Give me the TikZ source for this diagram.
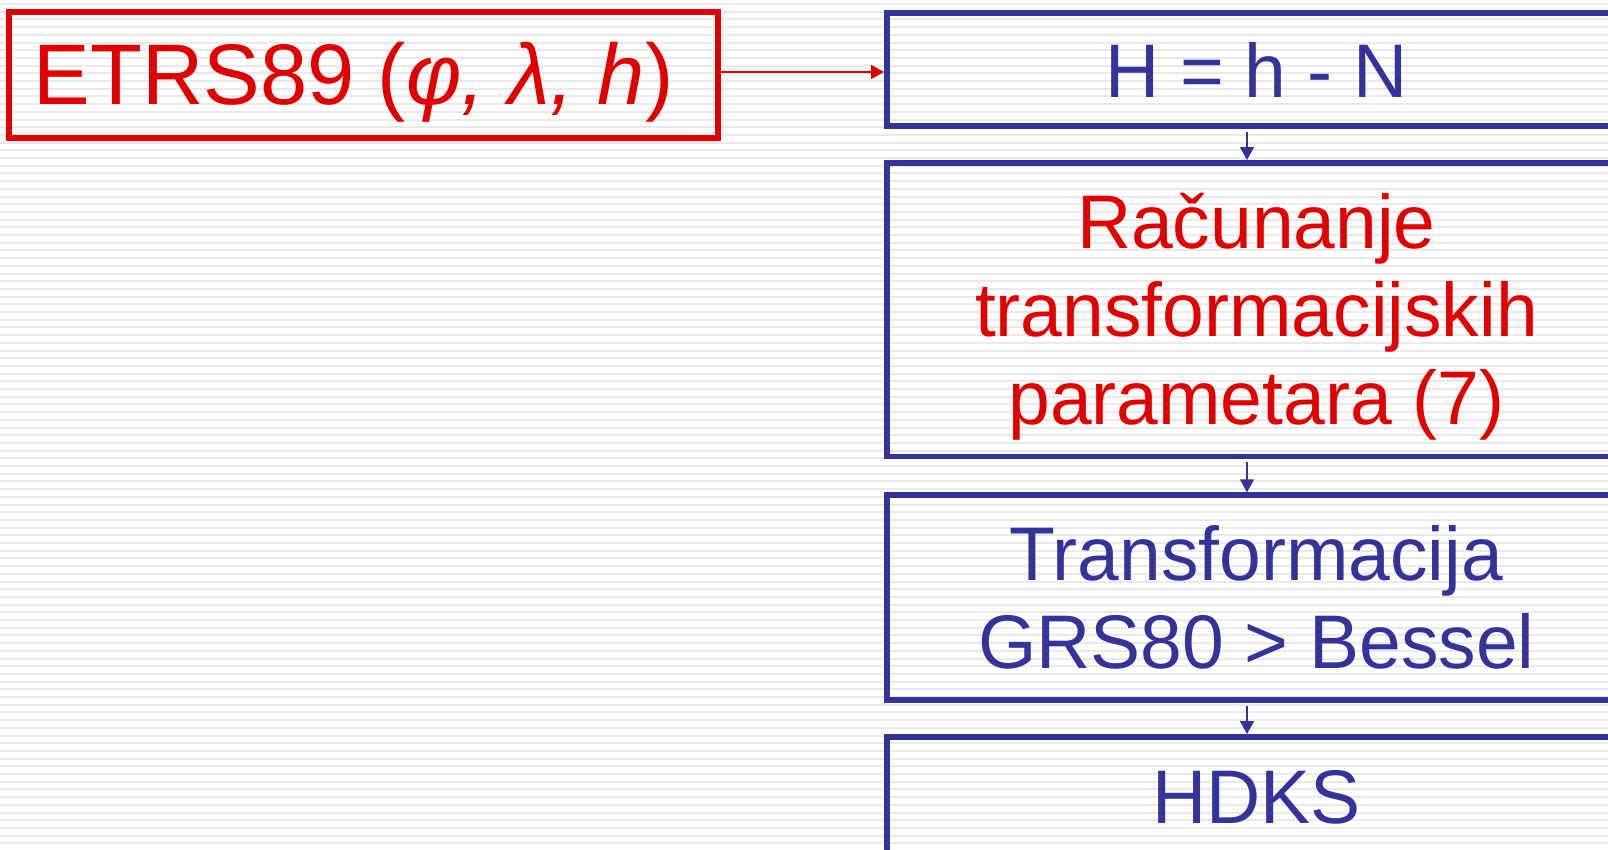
\documentclass[tikz,border=0pt]{standalone}
\usepackage{fontspec}
\setmainfont[FakeStretch=0.987]{Liberation Sans}
\usetikzlibrary{arrows.meta}
\definecolor{trfred}{RGB}{224,0,0}
\definecolor{trfblue}{RGB}{51,51,153}
\begin{document}
\begin{tikzpicture}[x=1pt, y=-1pt,
  trfstripe/.style = {line width=2pt, gray!17},
  trfbox/.style = {draw, line width=5.7pt, inner sep=0pt, align=center,
    minimum width=739.1pt, font=\fontsize{76}{88}\selectfont},
  trfredbox/.style = {trfbox, draw=trfred, text=trfred},
  trfbluebox/.style = {trfbox, draw=trfblue, text=trfblue},
  trfarrow/.style = {-{Triangle[length=13pt,width=14pt]}, line width=1.6pt}
]
  \useasboundingbox (0,0) rectangle (1608,849);
  \clip (0,0) rectangle (1608,849);
  % pozadina
  \foreach \y in {0,...,109}
    \draw[trfstripe] (0,{4+7.7*\y}) -- (1608,{4+7.7*\y});
  % ulaz
  \node[trfredbox, minimum width=709.3pt, minimum height=126.3pt,
    font=\fontsize{86}{99}\selectfont] (etrs) at (363.5,75)
    {\rule{0pt}{77pt}ETRS89 (\textit{φ, λ, h})\hspace*{20pt}};
  % koraci
  \node[trfbluebox, minimum height=113.3pt] (visina) at (1256.4,69.5) {H = h - N};
  \node[trfbluebox, text=trfred, minimum height=293.6pt] (parametri) at (1256.4,309.65)
    {\rule{0pt}{69pt}Računanje\\transformacijskih\\parametara (7)};
  \node[trfbluebox, minimum height=205pt] (transf) at (1256.4,597.65)
    {Transformacija\\GRS80 > Bessel};
  \node[trfbluebox, minimum height=120pt] (hdks) at (1256.4,796.85) {HDKS};
  % strelice
  \coordinate (ulaz) at ([yshift=-2.5pt]visina.west);
  \draw[trfarrow, trfred] (etrs.east |- ulaz) -- (ulaz);
  \draw[trfarrow, trfblue] ([xshift=-9.4pt,yshift=-3pt]visina.south) -- ([xshift=-9.4pt]parametri.north);
  \draw[trfarrow, trfblue] ([xshift=-9.4pt,yshift=-3pt]parametri.south) -- ([xshift=-9.4pt]transf.north);
  \draw[trfarrow, trfblue] ([xshift=-9.4pt,yshift=-3pt]transf.south) -- ([xshift=-9.4pt]hdks.north);
\end{tikzpicture}
\end{document}
